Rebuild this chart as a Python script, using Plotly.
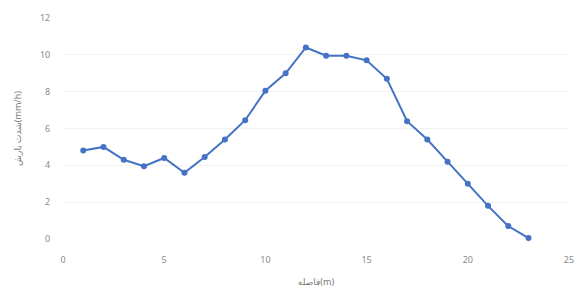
import plotly.graph_objects as go

distance = list(range(1, 24))
intensity = [4.8, 5.0, 4.3, 3.95, 4.4, 3.6, 4.45, 5.4, 6.45, 8.05, 9.0, 10.4,
             9.95, 9.95, 9.7, 8.7, 6.4, 5.4, 4.2, 3.0, 1.8, 0.7, 0.05]
x_ticks = [0, 5, 10, 15, 20, 25]
y_ticks = [0, 2, 4, 6, 8, 10, 12]

fig = go.Figure()
fig.add_trace(go.Scatter(
    x=distance, y=intensity, mode="lines+markers",
    line=dict(color="#4472C4", width=2),
    marker=dict(color="#4472C4", size=6),
    showlegend=False,
    cliponaxis=False,
))

font_family = "Noto Sans, DejaVu Sans, sans-serif"
fig.update_layout(
    width=580, height=294,
    margin=dict(l=63, r=11, t=18, b=55, autoexpand=False),
    paper_bgcolor="white", plot_bgcolor="white",
    font=dict(family=font_family, size=9, color="#8a8a8a"),
    xaxis=dict(range=[0, 25], tickvals=x_ticks, showgrid=False, zeroline=False,
               showline=False, ticks="outside", ticklen=12, tickcolor="rgba(0,0,0,0)",
               automargin=False,
               title=dict(text="فاصله(m)", font=dict(size=9, color="#7a7a7a"), standoff=13)),
    yaxis=dict(range=[0, 12], tickvals=y_ticks, showgrid=True, gridcolor="#f2f2f2",
               zeroline=False, showline=False, ticks="outside", ticklen=10,
               tickcolor="rgba(0,0,0,0)", automargin=False,
               title=dict(text="شدت بارش(mm/h)", font=dict(size=9, color="#7a7a7a"), standoff=16)),
)

fig.write_html("out.html", config={"displayModeBar": False},
               post_script="document.body.style.margin='0';document.body.style.padding='0';")
